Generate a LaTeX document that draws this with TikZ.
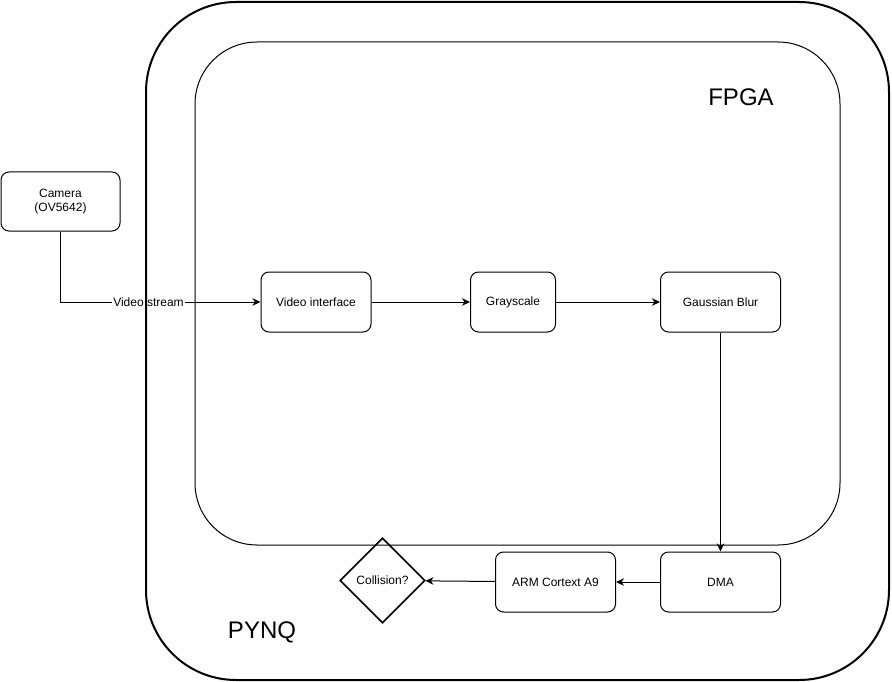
\documentclass[tikz,border=0pt]{standalone}
\usepackage{fontspec}
\setmainfont{Liberation Sans}
\usetikzlibrary{arrows.meta,shapes.geometric}
\begin{document}
\begin{tikzpicture}[x=1pt,y=-1pt,
  box/.style={draw,line width=1pt,rounded corners=8pt,minimum height=60pt,inner sep=0pt,font=\fontsize{12}{14}\selectfont,align=center},
  conn/.style={line width=1pt,-{Stealth[length=8pt,width=7.5pt,inset=2.5pt]}},
  lbl/.style={fill=white,inner sep=1pt,font=\fontsize{12}{14}\selectfont}]
\useasboundingbox (0,0) rectangle (892,682);
% nodes
\node[box,minimum width=119pt,minimum height=59pt] (cam) at (60.5,201.5) {Camera\\(OV5642)};
\node[box,minimum width=110pt] (vi) at (316,302) {Video interface};
\node[box,minimum width=85pt] (gray) at (513,302) {Grayscale};
\node[box,minimum width=120pt] (gauss) at (720.5,302) {Gaussian Blur};
\node[box,minimum width=120pt] (dma) at (720.5,582) {DMA};
\node[box,minimum width=120pt] (arm) at (555.5,582) {ARM Cortext A9};
\node[draw,diamond,line width=1.6pt,minimum width=85pt,minimum height=85pt,inner sep=0pt,font=\fontsize{12}{14}\selectfont] (coll) at (382.5,580.5) {Collision?};
% connectors
\draw[conn] (cam.south) |- node[lbl,pos=0.72] (vs) {Video stream} (vi.west);
\draw[conn] (vi) -- (gray);
\draw[conn] (gray) -- (gauss);
\draw[conn] (gauss) -- (dma);
\draw[conn] (dma) -- (arm);
\draw[conn] (arm) -- (coll);
% containers
\node[draw,line width=1pt,rounded corners=62pt,minimum width=645pt,minimum height=503pt,inner sep=0pt] (fpga) at (517.5,293.5) {};
\node[draw,line width=2pt,rounded corners=90pt,minimum width=743pt,minimum height=678pt,inner sep=0pt] (pynq) at (517.5,341) {};
\node[font=\fontsize{24}{28}\selectfont] (fpgalbl) at (741,97) {FPGA};
\node[font=\fontsize{24}{28}\selectfont] (pynqlbl) at (262,632) {PYNQ};
\end{tikzpicture}
\end{document}
